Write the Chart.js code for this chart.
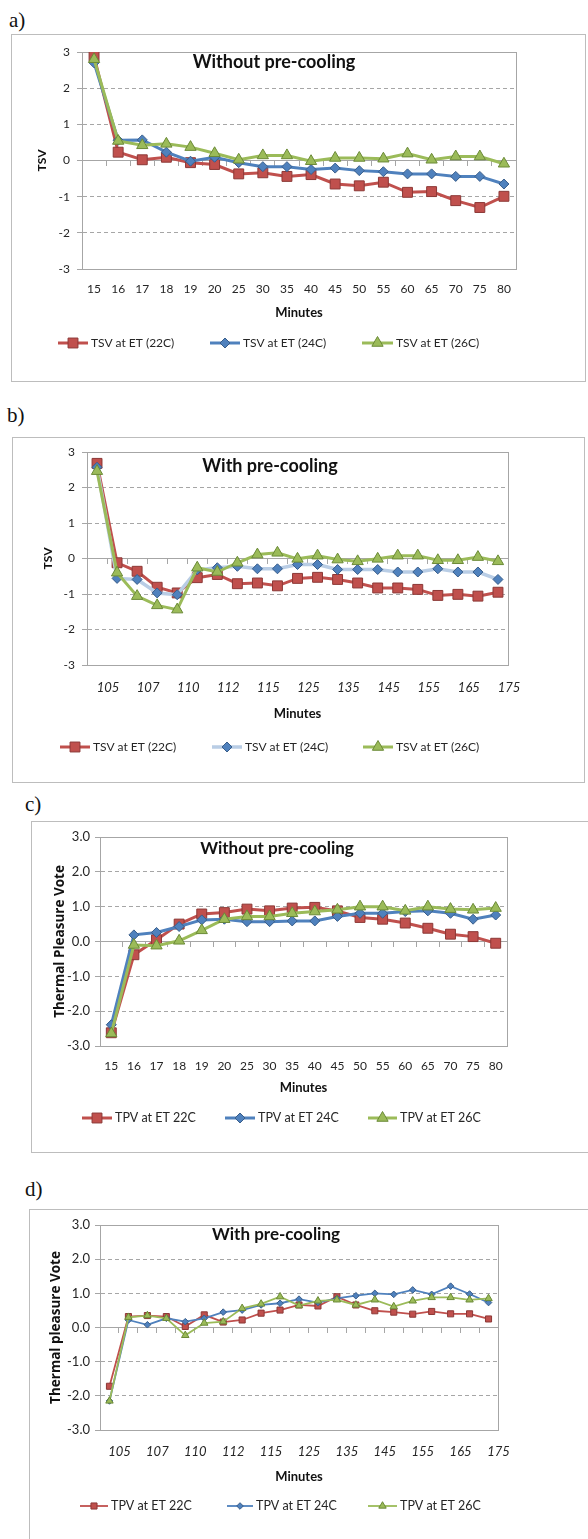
<!DOCTYPE html>
<html><head><meta charset="utf-8">
<script src="https://cdn.jsdelivr.net/npm/chart.js@4.4.1/dist/chart.umd.min.js"></script>
<style>
html,body{margin:0;padding:0;background:#fff;}
body{width:588px;height:1539px;position:relative;overflow:hidden;}
.frame{position:absolute;border:1px solid #bdbdbd;box-sizing:border-box;}
.lab{position:absolute;font-family:"Liberation Serif","Times New Roman",serif;font-size:21px;line-height:21px;color:#111;}
canvas{position:absolute;}
</style></head><body>
<div class="lab" style="left:9px;top:10px">a)</div>
<div class="lab" style="left:7px;top:405px">b)</div>
<div class="lab" style="left:25px;top:794px">c)</div>
<div class="lab" style="left:25px;top:1179px">d)</div>
<script>
// ---- data ----
const catA = ['15','16','17','18','19','20','25','30','35','40','45','50','55','60','65','70','75','80'];
const catB = ['105','106','107','108','110','111','112','113','115','120','125','130','135','140','145','150','155','160','165','170','175'];

const tsvNo22 = [2.88, 0.23, 0.02, 0.09, -0.06, -0.11, -0.37, -0.34, -0.44, -0.39, -0.65, -0.70, -0.60, -0.88, -0.86, -1.11, -1.30, -0.99];
const tsvNo24 = [2.70, 0.56, 0.57, 0.23, -0.02, 0.09, -0.06, -0.17, -0.17, -0.25, -0.21, -0.28, -0.31, -0.37, -0.37, -0.44, -0.44, -0.65];
const tsvNo26 = [2.80, 0.54, 0.42, 0.46, 0.37, 0.20, 0.02, 0.14, 0.14, -0.02, 0.07, 0.07, 0.05, 0.19, 0.02, 0.11, 0.11, -0.09];

const tsvPre22 = [2.68, -0.12, -0.36, -0.81, -0.97, -0.54, -0.45, -0.71, -0.69, -0.77, -0.56, -0.53, -0.59, -0.69, -0.83, -0.83, -0.87, -1.04, -1.01, -1.06, -0.95];
const tsvPre24 = [2.57, -0.56, -0.59, -0.97, -1.02, -0.32, -0.26, -0.22, -0.29, -0.29, -0.17, -0.17, -0.31, -0.31, -0.31, -0.38, -0.38, -0.29, -0.38, -0.38, -0.59];
const tsvPre26 = [2.46, -0.40, -1.06, -1.32, -1.44, -0.26, -0.38, -0.12, 0.11, 0.16, -0.01, 0.08, -0.03, -0.08, -0.01, 0.08, 0.08, -0.05, -0.05, 0.04, -0.08];

const tpvNo22 = [-2.62, -0.38, 0.05, 0.50, 0.79, 0.83, 0.93, 0.88, 0.96, 0.98, 0.88, 0.69, 0.64, 0.53, 0.38, 0.21, 0.14, -0.05];
const tpvNo24 = [-2.39, 0.19, 0.26, 0.43, 0.62, 0.64, 0.57, 0.57, 0.59, 0.59, 0.72, 0.81, 0.81, 0.86, 0.88, 0.81, 0.64, 0.76];
const tpvNo26 = [-2.64, -0.10, -0.12, 0.02, 0.32, 0.64, 0.72, 0.72, 0.81, 0.86, 0.91, 1.00, 1.00, 0.88, 1.00, 0.93, 0.91, 0.96];

const tpvPre22 = [-1.72, 0.32, 0.35, 0.32, 0.03, 0.37, 0.16, 0.22, 0.42, 0.51, 0.66, 0.63, 0.90, 0.66, 0.49, 0.45, 0.39, 0.47, 0.40, 0.40, 0.25];
const tpvPre24 = [-2.15, 0.22, 0.08, 0.27, 0.17, 0.27, 0.45, 0.51, 0.66, 0.71, 0.83, 0.73, 0.85, 0.93, 1.00, 0.97, 1.10, 0.97, 1.21, 0.98, 0.73];
const tpvPre26 = [-2.15, 0.30, 0.35, 0.27, -0.23, 0.13, 0.17, 0.56, 0.69, 0.90, 0.64, 0.78, 0.81, 0.66, 0.81, 0.61, 0.78, 0.88, 0.88, 0.81, 0.85];

const tsvLabels = ['TSV at ET (22C)', 'TSV at ET (24C)', 'TSV at ET (26C)'];
const tpvLabels = ['TPV at ET 22C', 'TPV at ET 24C', 'TPV at ET 26C'];

// ---- styling ----
const FONT = 'Lato, "Open Sans", sans-serif';
const FONT2 = '"Open Sans", Lato, sans-serif';
const RED = '#c0504d', RED_D = '#8c3836';
const BLUE = '#4f81bd', BLUE_D = '#385d8a', BLUE_L = '#b9cde5';
const GREEN = '#9bbb59', GREEN_D = '#6b8a37';
const GRID = '#a6a6a6', TXT = '#262626';

function drawMarker(ctx, style, r, x, y) {
  if (Chart.helpers && Chart.helpers.drawPoint) {
    Chart.helpers.drawPoint(ctx, {pointStyle: style, radius: r, rotation: 0, borderWidth: 1}, x, y);
  }
}

function build(p) {
  const fw = p.frame.r - p.frame.l, fh = p.frame.b - p.frame.t;
  const fr = document.createElement('div');
  fr.className = 'frame';
  Object.assign(fr.style, {left: p.frame.l + 'px', top: p.frame.t + 'px', width: fw + 'px', height: fh + 'px'});
  document.body.appendChild(fr);
  const cv = document.createElement('canvas');
  cv.width = fw; cv.height = fh;
  Object.assign(cv.style, {left: p.frame.l + 'px', top: p.frame.t + 'px', width: fw + 'px', height: fh + 'px'});
  document.body.appendChild(cv);

  const yLh = p.yTitleSize * 1.2;
  const yScaleLeft = p.yTitleX - yLh / 2;
  const Wy = p.plot.l - yScaleLeft;
  const xLh = 13 * 1.2;
  const Hx = p.xTitleY + xLh / 2 - p.plot.b;
  const pad = {
    left: yScaleLeft - p.frame.l,
    top: p.plot.t - p.frame.t,
    right: p.frame.r - p.plot.r,
    bottom: p.frame.b - (p.plot.b + Hx)
  };

  const overlay = {
    id: 'overlay',
    beforeDatasetsDraw(chart) {
      const {ctx, chartArea: ca} = chart;
      ctx.save();
      ctx.strokeStyle = GRID; ctx.lineWidth = 1; ctx.setLineDash([]);
      ctx.strokeRect(Math.round(ca.left) + 0.5, Math.round(ca.top) + 0.5,
        Math.round(ca.right - ca.left), Math.round(ca.bottom - ca.top));
      ctx.restore();
    },
    afterDraw(chart) {
      const ctx = chart.ctx;
      ctx.save();
      ctx.setLineDash([]);
      ctx.fillStyle = '#111';
      ctx.font = 'bold ' + p.titleSize + 'px ' + FONT;
      ctx.textAlign = 'center'; ctx.textBaseline = 'middle';
      ctx.fillText(p.title, p.titleX - p.frame.l, p.titleY - p.frame.t);
      const ly = p.legendY - p.frame.t;
      p.legend.forEach((L, i) => {
        const s = p.series[i];
        ctx.strokeStyle = s.line; ctx.lineWidth = s.lw;
        ctx.beginPath(); ctx.moveTo(L[0] - p.frame.l, ly); ctx.lineTo(L[1] - p.frame.l, ly); ctx.stroke();
        ctx.fillStyle = s.fill; ctx.strokeStyle = s.edge; ctx.lineWidth = 1;
        drawMarker(ctx, s.style, s.r, (L[0] + L[1]) / 2 - p.frame.l, ly);
        ctx.fillStyle = TXT;
        ctx.font = p.legendSize + 'px ' + FONT;
        ctx.textAlign = 'left'; ctx.textBaseline = 'middle';
        ctx.fillText(s.label, L[2] - p.frame.l, ly);
      });
      ctx.restore();
    }
  };

  const datasets = p.series.map((s, i) => ({
    label: s.label,
    data: s.data,
    xAxisID: 'x', yAxisID: 'y',
    borderColor: s.line,
    borderWidth: s.lw,
    backgroundColor: s.fill,
    pointStyle: s.style,
    pointRadius: s.r,
    pointHoverRadius: s.r,
    pointBackgroundColor: s.fill,
    pointBorderColor: s.edge,
    pointBorderWidth: 1,
    tension: 0,
    fill: false,
    order: 2 - i
  }));

  new Chart(cv, {
    type: 'line',
    data: {labels: p.cats, datasets},
    plugins: [overlay],
    options: {
      responsive: false,
      animation: false,
      devicePixelRatio: 1,
      layout: {padding: pad},
      plugins: {legend: {display: false}, title: {display: false}, tooltip: {enabled: false}},
      scales: {
        x: {
          type: 'category',
          position: {y: 0},
          offset: true,
          grid: {display: true, drawOnChartArea: false, drawTicks: true, tickLength: 5, offset: true, color: GRID},
          border: {display: true, color: GRID, width: 1},
          ticks: {display: false}
        },
        xb: {
          type: 'category',
          position: 'bottom',
          offset: true,
          grid: {display: false, drawTicks: false},
          border: {display: false},
          ticks: {
            autoSkip: false, maxRotation: 0, minRotation: 0,
            padding: p.xPad,
            labelOffset: p.labelOffset || 0,
            color: TXT,
            font: {family: FONT, size: p.xTickSize, style: p.xItalic ? 'italic' : 'normal'},
            callback: function (v, i) { return (i % p.every === 0) ? p.cats[i] : ''; }
          },
          title: {display: true, text: 'Minutes', color: '#111', padding: 0, font: {family: FONT, size: 13, weight: 'bold'}},
          afterFit: s => { s.height = Hx; }
        },
        y: {
          type: 'linear',
          position: 'left',
          min: -3, max: 3,
          grid: {color: GRID, drawTicks: true, tickLength: 5, tickColor: GRID, tickBorderDash: []},
          border: {display: true, color: GRID, dash: [4, 3]},
          ticks: {
            stepSize: 1, padding: p.yPad, color: TXT,
            font: {family: FONT, size: p.yTickSize},
            callback: v => p.decimals ? Number(v).toFixed(1) : String(v)
          },
          title: {display: true, text: p.yTitle, color: '#111', padding: 0, font: {family: p.yTitleFont || FONT, size: p.yTitleSize, weight: 'bold'}},
          afterFit: s => { s.width = Wy; }
        }
      }
    }
  });
}

function seriesSet(labels, d22, d24, d26, opt) {
  return [
    {label: labels[0], data: d22, line: RED, fill: RED, edge: RED_D, style: 'rect', r: opt.rs, lw: opt.lw},
    {label: labels[1], data: d24, line: opt.blueLine || BLUE, fill: BLUE, edge: BLUE_D, style: 'rectRot', r: opt.rd, lw: opt.blw || opt.lw},
    {label: labels[2], data: d26, line: GREEN, fill: GREEN, edge: GREEN_D, style: 'triangle', r: opt.rt, lw: opt.lw}
  ];
}

build({
  frame: {l: 11, t: 34, r: 586, b: 382},
  plot: {l: 82, t: 52, r: 516, b: 269},
  cats: catA, every: 1, xItalic: false, xTickSize: 12, xPad: 13,
  yTitle: 'TSV', yTitleSize: 12, yTitleX: 42, yTickSize: 12, yPad: 7, decimals: false,
  xTitleY: 313,
  title: 'Without pre-cooling', titleSize: 18, titleX: 274, titleY: 62,
  legendY: 343, legendSize: 12,
  legend: [[58, 88, 91], [210, 240, 243], [362, 393, 396]],
  series: seriesSet(tsvLabels, tsvNo22, tsvNo24, tsvNo26, {rs: 7, rd: 5, rt: 6.5, lw: 3})
});

build({
  frame: {l: 12, t: 437, r: 585, b: 783},
  plot: {l: 87, t: 452, r: 508, b: 665},
  cats: catB, every: 2, xItalic: true, xTickSize: 13, xPad: 15, labelOffset: 11,
  yTitle: 'TSV', yTitleSize: 12, yTitleX: 48, yTickSize: 12, yPad: 7, decimals: false,
  xTitleY: 714,
  title: 'With pre-cooling', titleSize: 18, titleX: 270, titleY: 466,
  legendY: 747, legendSize: 12,
  legend: [[60, 90, 93], [212, 242, 245], [363, 393, 396]],
  series: seriesSet(tsvLabels, tsvPre22, tsvPre24, tsvPre26, {rs: 7, rd: 5, rt: 6.5, lw: 3, blueLine: BLUE_L, blw: 3.5})
});

build({
  frame: {l: 31, t: 821, r: 592, b: 1153},
  plot: {l: 100, t: 837, r: 507, b: 1046},
  cats: catA, every: 1, xItalic: false, xTickSize: 12, xPad: 13,
  yTitle: 'Thermal Pleasure Vote', yTitleSize: 13.5, yTitleFont: FONT2, yTitleX: 60, yTickSize: 13, yPad: 5, decimals: true,
  xTitleY: 1088,
  title: 'Without pre-cooling', titleSize: 17, titleX: 277, titleY: 849,
  legendY: 1118, legendSize: 12.5,
  legend: [[82, 112, 115], [225, 255, 258], [368, 397, 400]],
  series: seriesSet(tpvLabels, tpvNo22, tpvNo24, tpvNo26, {rs: 7, rd: 5, rt: 6.5, lw: 3})
});

build({
  frame: {l: 29, t: 1209, r: 592, b: 1550},
  plot: {l: 100, t: 1225, r: 498, b: 1430},
  cats: catB, every: 2, xItalic: true, xTickSize: 13, xPad: 14, labelOffset: 10,
  yTitle: 'Thermal pleasure Vote', yTitleSize: 13.5, yTitleFont: FONT2, yTitleX: 56, yTickSize: 13, yPad: 5, decimals: true,
  xTitleY: 1477,
  title: 'With pre-cooling', titleSize: 17, titleX: 276, titleY: 1235,
  legendY: 1506, legendSize: 12.5,
  legend: [[80, 108, 111], [227, 253, 256], [368, 397, 400]],
  series: seriesSet(tpvLabels, tpvPre22, tpvPre24, tpvPre26, {rs: 4.3, rd: 3.3, rt: 4.3, lw: 1.8})
});
</script>
</body></html>
